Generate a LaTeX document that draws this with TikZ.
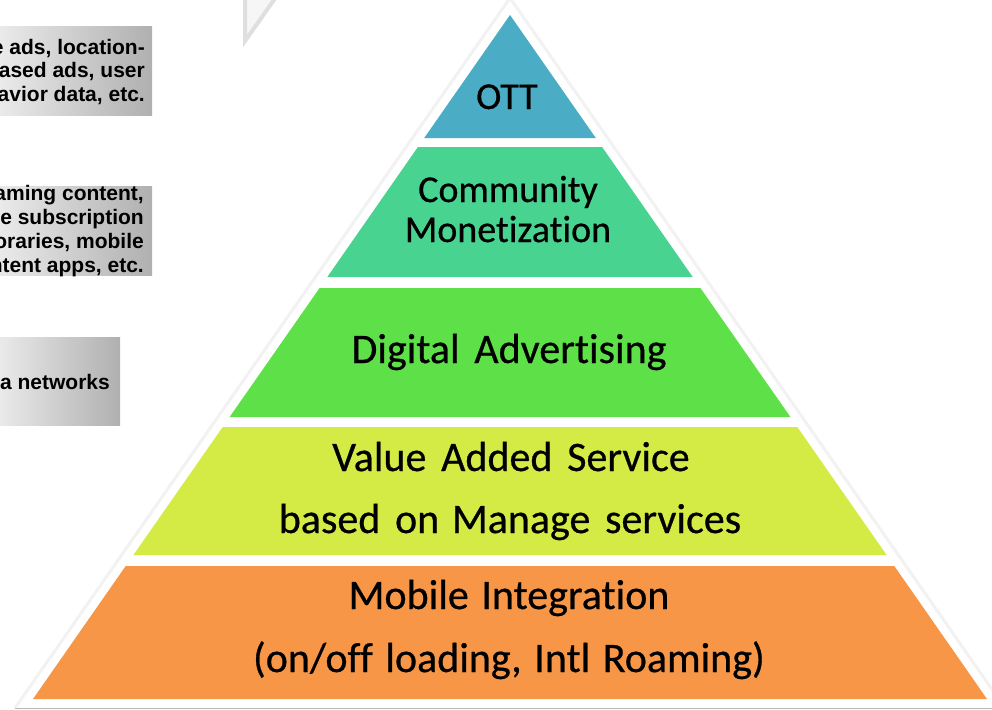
\documentclass[tikz,border=0pt]{standalone}
\usepackage{fontspec}
\setmainfont{Carlito}[Ligatures={NoCommon,NoDiscretionary,NoRequired}]
\newfontfamily\pyrfont{Carlito}[Ligatures={NoCommon,NoDiscretionary,NoRequired},FakeBold=0.6]
\newfontfamily\boxfont{Liberation Sans}
\definecolor{ottc}{RGB}{75,172,198}
\definecolor{commc}{RGB}{72,212,144}
\definecolor{digic}{RGB}{94,224,72}
\definecolor{vasc}{RGB}{212,235,70}
\definecolor{mobc}{RGB}{247,150,70}
\begin{document}
\begin{tikzpicture}[x=1pt,y=-1pt,
  lvltext/.style={font=\pyrfont\fontsize{38}{40}\selectfont, text=black, inner sep=0pt, anchor=base},
  lvlbig/.style={lvltext, font=\pyrfont\fontsize{42}{44}\selectfont},
  graybox/.style={left color=gray!15, right color=gray!62, draw=none},
  boxtext/.style={font=\boxfont\bfseries\fontsize{21}{23.8}\selectfont, align=right, anchor=east, inner sep=0pt, text=black},
  band/.style={draw=none}]
\useasboundingbox (0,0) rectangle (992,709);
\begin{scope}
\clip (0,0) rectangle (992,709);
% top-left faint shape
\filldraw[fill=gray!7, draw=gray!25, line width=4pt] (245,-10) -- (245,41) -- (281,-10) -- cycle;
% outline triangle
\draw[gray!10, line width=3pt] (15,708) -- (510,-2) -- (1005,708);
\draw[gray!55, line width=1.5pt] (15,708.5) -- (992,708.5);
% gray boxes
\shade[graybox] (-5,27) rectangle (152,115);
\shade[graybox] (-5,186) rectangle (152,275);
\shade[graybox] (-5,337) rectangle (120,425);
\node[boxtext] (b1) at (145,72) {e ads, location-\\ased ads, user\\avior data, etc.};
\node[boxtext] (b2) at (144,231) {aming content,\\e subscription\\oraries, mobile\\ntent apps, etc.};
\node[boxtext] (b3) at (110,382) {a networks};
% pyramid bands
\fill[ottc]  (510,15) -- (595.8,138) -- (424.2,138) -- cycle;
\fill[commc] (417.9,147) -- (602.1,147) -- (692.7,277) -- (327.3,277) -- cycle;
\fill[digic] (319.6,288) -- (700.4,288) -- (790.4,417) -- (229.6,417) -- cycle;
\fill[vasc]  (222.7,427) -- (797.3,427) -- (886.6,555) -- (133.4,555) -- cycle;
\fill[mobc]  (125.7,566) -- (894.3,566) -- (987,699) -- (33,699) -- cycle;
% texts
\node[lvltext] (ott) at (507,109) {OTT};
\node[lvltext] (comm1) at (508,202) {Community};
\node[lvltext] (comm2) at (508,242) {Monetization};
\node[lvlbig] (digi) at (509,363) {Digital\hspace{0.35em}Advertising};
\node[lvlbig] (vas1) at (511,471) {Value\hspace{0.35em}Added\hspace{0.35em}Service};
\node[lvlbig] (vas2) at (510,533) {based\hspace{0.35em}on\hspace{0.3em}Manage\hspace{0.35em}services};
\node[lvlbig] (mob1) at (509,609) {Mobile\hspace{0.3em}Integration};
\node[lvlbig] (mob2) at (509,672) {(on/off\hspace{0.3em}loading,\hspace{0.3em}Intl\hspace{0.3em}Roaming)};
\end{scope}
\end{tikzpicture}
\end{document}
